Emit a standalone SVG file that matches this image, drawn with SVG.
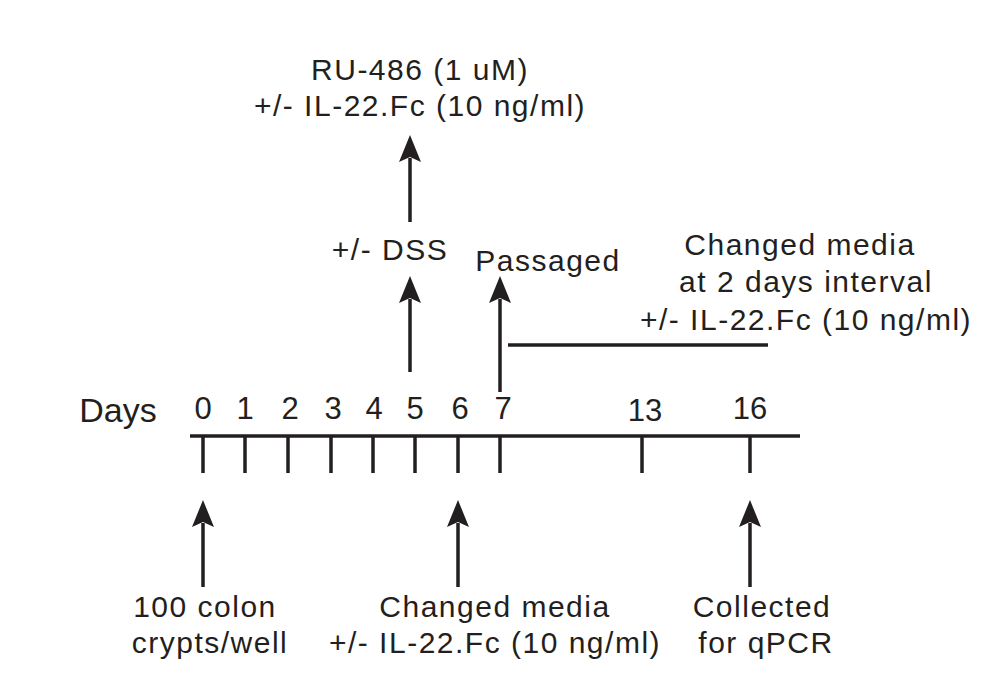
<svg xmlns="http://www.w3.org/2000/svg" width="1006" height="686" viewBox="0 0 1006 686">
<style>
text{font-family:"Liberation Sans",Arial,sans-serif;font-size:30px;letter-spacing:1.5px;fill:#231f20;text-anchor:middle}
.n{font-size:31px;letter-spacing:0}
line{stroke:#231f20;stroke-width:3.5}
polygon{fill:#231f20}
</style>
<rect width="1006" height="686" fill="#fff"/>
<g id="timeline">
<line x1="190" y1="436" x2="800" y2="436"/>
<line x1="203" y1="436" x2="203" y2="473"/><line x1="245" y1="436" x2="245" y2="473"/>
<line x1="288" y1="436" x2="288" y2="473"/><line x1="331" y1="436" x2="331" y2="473"/>
<line x1="373" y1="436" x2="373" y2="473"/><line x1="415" y1="436" x2="415" y2="473"/>
<line x1="458" y1="436" x2="458" y2="473"/><line x1="500" y1="436" x2="500" y2="473"/>
<line x1="642" y1="436" x2="642" y2="473"/><line x1="750" y1="436" x2="750" y2="473"/>
<text x="118" y="422" class="n" style="font-size:34px">Days</text>
<text x="203" y="419" class="n">0</text><text x="245" y="419" class="n">1</text>
<text x="290" y="419" class="n">2</text><text x="333" y="419" class="n">3</text>
<text x="374" y="419" class="n">4</text><text x="415" y="419" class="n">5</text>
<text x="460" y="419" class="n">6</text><text x="503" y="419" class="n">7</text>
<text x="645" y="421" class="n">13</text><text x="750" y="419" class="n">16</text>
</g>
<g id="connectors">
<polygon points="410,135 399,162 410,157 421,162"/><line x1="410" y1="158" x2="410" y2="222"/>
<polygon points="410,276 399,303 410,298 421,303"/><line x1="410" y1="299" x2="410" y2="372"/>
<polygon points="500,276 489,303 500,298 511,303"/><line x1="500" y1="299" x2="500" y2="392"/>
<line x1="508" y1="345" x2="768" y2="345"/>
<polygon points="203,500 192,527 203,522 214,527"/><line x1="203" y1="523" x2="203" y2="587"/>
<polygon points="458,500 447,527 458,522 469,527"/><line x1="458" y1="523" x2="458" y2="587"/>
<polygon points="750,500 739,527 750,522 761,527"/><line x1="750" y1="523" x2="750" y2="587"/>
</g>
<g id="ru486"><text x="420" y="80">RU-486 (1 uM)</text><text x="420" y="116">+/- IL-22.Fc (10 ng/ml)</text></g>
<g id="dss"><text x="390" y="260">+/- DSS</text></g>
<g id="passaged"><text x="548" y="271">Passaged</text></g>
<g id="media2"><text x="800" y="255">Changed media</text><text x="806" y="292">at 2 days interval</text><text x="806" y="330">+/- IL-22.Fc (10 ng/ml)</text></g>
<g id="crypts"><text x="205" y="617">100 colon</text><text x="210" y="653">crypts/well</text></g>
<g id="media"><text x="495" y="617">Changed media</text><text x="495" y="653">+/- IL-22.Fc (10 ng/ml)</text></g>
<g id="collected"><text x="762" y="617">Collected</text><text x="766" y="653">for qPCR</text></g>
</svg>
